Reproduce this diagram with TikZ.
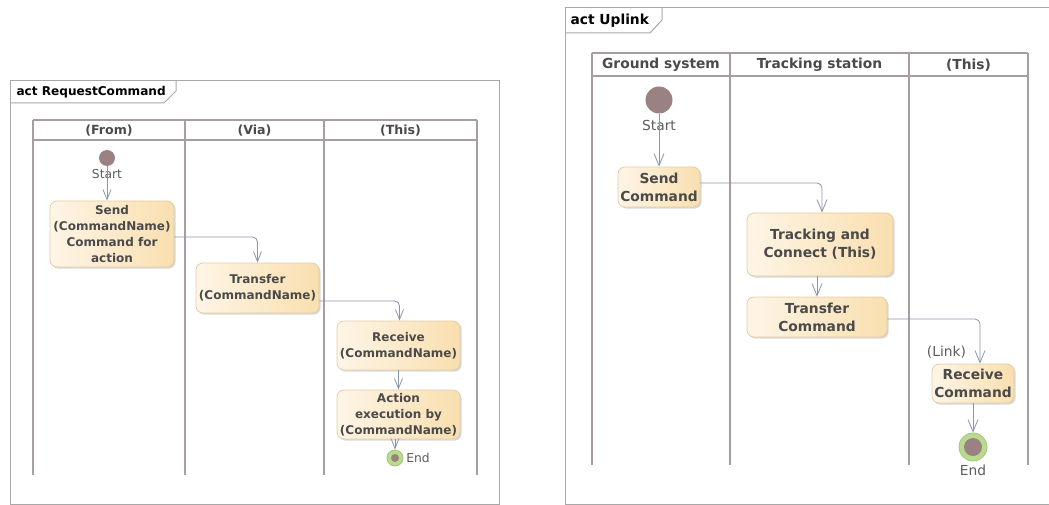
\documentclass[tikz,border=0pt]{standalone}
\usepackage{fontspec}
\setmainfont{DejaVu Sans}
\usetikzlibrary{arrows.meta,shadows}

\definecolor{lanec}{HTML}{A89E9E}
\definecolor{framec}{HTML}{A8A8A8}
\definecolor{boxL}{HTML}{FEF5E6}
\definecolor{boxR}{HTML}{F9DFAF}
\definecolor{boxline}{HTML}{E3CDA4}
\definecolor{flowc}{HTML}{8C94AC}
\definecolor{dotc}{HTML}{9A8282}
\definecolor{ringc}{HTML}{BADB8E}
\definecolor{ringline}{HTML}{A2C678}
\definecolor{txtc}{HTML}{4A4A4A}

\tikzset{
  frameline/.style={draw=framec, line width=1pt},
  laneline/.style={draw=lanec, line width=1.4pt},
  action/.style={rounded corners=7pt, draw=boxline, line width=0.8pt,
    left color=boxL, right color=boxR, text=txtc, align=center,
    inner sep=0pt, font=\bfseries,
    drop shadow={shadow xshift=1.6pt, shadow yshift=-1.6pt, opacity=0.22, fill=black!70}},
  smallfont/.style={font=\fontsize{12}{16}\selectfont\bfseries},
  bigfont/.style={font=\fontsize{13.8}{18}\selectfont\bfseries},
  headL/.style={text=txtc, font=\fontsize{12.6}{14}\selectfont\bfseries},
  headR/.style={text=txtc, font=\fontsize{13.8}{16}\selectfont\bfseries},
  titleL/.style={anchor=west, text=black, font=\fontsize{12.1}{14}\selectfont\bfseries},
  titleR/.style={anchor=west, text=black, font=\fontsize{13.8}{16}\selectfont\bfseries},
  startdot/.style={circle, fill=dotc, inner sep=0pt},
  enddot/.style={circle, fill=ringc, draw=ringline, line width=0.8pt, inner sep=0pt},
  note/.style={text=txtc!90, inner sep=0pt},
  flowL/.style={draw=flowc, line width=0.8pt, rounded corners=5pt,
    -{Straight Barb[length=10pt, width=8pt, line width=0.8pt]}},
  flowR/.style={draw=flowc, line width=0.8pt, rounded corners=5pt,
    -{Straight Barb[length=12pt, width=10pt, line width=0.8pt]}},
}

\begin{document}
\begin{tikzpicture}[x=1pt, y=-1pt]
\useasboundingbox (0,0) rectangle (1049,505);

% ---------------- act RequestCommand ----------------
\draw[frameline] (10,81) rectangle (499,504);
\draw[frameline] (10,103) -- (164,103) -- (176,91) -- (176,81);
\node[titleL] (tL) at (13,92) {act RequestCommand};

% swimlanes
\draw[laneline] (33,120) -- (477,120);
\draw[laneline] (33,140) -- (477,140);
\foreach \x in {33,185,324,477} \draw[laneline] (\x,120) -- (\x,475);
\node[headL] (hFrom) at (109,131) {(From)};
\node[headL] (hVia) at (254.5,131) {(Via)};
\node[headL] (hThisL) at (400.5,131) {(This)};

% nodes
\node[startdot, minimum size=16pt] (startL) at (107,158) {};
\node[note, font=\fontsize{12.3}{14}\selectfont] (startLt) at (107,174) {Start};
\node[action, smallfont, minimum width=124pt, minimum height=66pt] (sendL) at (112,234)
  {Send\\(CommandName)\\Command for\\action};
\node[action, smallfont, minimum width=123pt, minimum height=50pt] (transL) at (257.5,288)
  {Transfer\\(CommandName)};
\node[action, smallfont, minimum width=123pt, minimum height=49pt] (recvL) at (398.5,345.5)
  {Receive\\(CommandName)};
\node[action, smallfont, minimum width=123pt, minimum height=49pt] (actL) at (398.5,414.5)
  {Action\\execution by\\(CommandName)};
\node[enddot, minimum size=16pt] (endL) at (395,458) {};
\node[startdot, minimum size=8pt] (endLin) at (395,458) {};
\node[note, font=\fontsize{12.3}{14}\selectfont] (endLt) at (418,457.5) {End};

% flows
\draw[flowL] (startL) -- (startL |- sendL.north);
\draw[flowL] ([yshift=-3pt]sendL.east) -| (transL.north);
\draw[flowL] ([yshift=-13pt]transL.east) -| ([xshift=1pt]recvL.north);
\draw[flowL] (recvL.south) -- (actL.north);
\draw[flowL] (actL.south -| endL) -- (endL.north);

% ---------------- act Uplink ----------------
\draw[frameline] (1052,8) -- (565,8) -- (565,504) -- (1052,504);
\draw[frameline] (565,33) -- (650,33) -- (662,20) -- (662,8);
\node[titleR] (tR) at (567,20.5) {act Uplink};

% swimlanes
\draw[laneline] (592,53) -- (1028,53);
\draw[laneline] (592,76) -- (1028,76);
\foreach \x in {592,730,909,1028} \draw[laneline] (\x,53) -- (\x,465);
\node[headR] (hGround) at (661,65) {Ground system};
\node[headR] (hTrack) at (819.5,65) {Tracking station};
\node[headR] (hThisR) at (968.5,65) {(This)};

% nodes
\node[startdot, minimum size=27pt] (startR) at (659,100) {};
\node[note, font=\fontsize{13.8}{16}\selectfont] (startRt) at (659,125) {Start};
\node[action, bigfont, minimum width=82pt, minimum height=40pt] (sendR) at (659,187)
  {Send\\Command};
\node[action, bigfont, minimum width=146pt, minimum height=63pt] (trackR) at (820,244.5)
  {Tracking and\\Connect (This)};
\node[action, bigfont, minimum width=140pt, minimum height=40pt] (transR) at (817,317)
  {Transfer\\Command};
\node[action, bigfont, minimum width=82pt, minimum height=39pt] (recvR) at (973,383.5)
  {Receive\\Command};
\node[note, font=\fontsize{13.8}{16}\selectfont] (linkR) at (946.5,352) {(Link)};
\node[enddot, minimum size=28pt] (endR) at (973,447) {};
\node[startdot, minimum size=18pt] (endRin) at (973,447) {};
\node[note, font=\fontsize{13.8}{16}\selectfont] (endRt) at (973,470) {End};

% flows
\draw[flowR] (startR) -- (sendR.north);
\draw[flowR] ([yshift=4pt]sendR.east) -| ([xshift=2pt]trackR.north);
\draw[flowR] (trackR.south -| transR.north) -- (transR.north);
\draw[flowR] ([yshift=-2pt]transR.east) -| ([xshift=7pt]recvR.north);
\draw[flowR] (recvR.south) -- (endR.north);
\end{tikzpicture}
\end{document}
